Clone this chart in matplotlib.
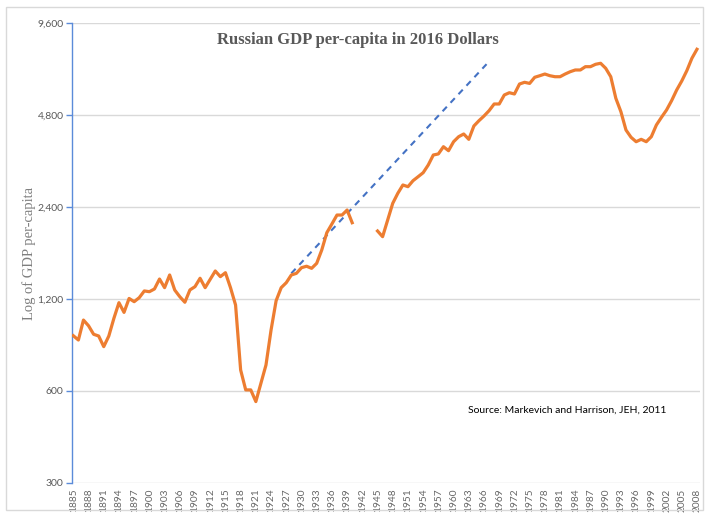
import numpy as np
import matplotlib
matplotlib.use("Agg")
import matplotlib.pyplot as plt
from matplotlib.ticker import FixedLocator, FuncFormatter, NullLocator
from matplotlib.patches import Rectangle

years = list(range(1885, 2009))
gdp = [
    910, 881, 1024, 981, 920, 908, 838, 908, 1037, 1167,          # 1885-1894
    1085, 1205, 1176, 1212, 1275, 1268, 1294, 1395, 1307, 1438,   # 1895-1904
    1284, 1221, 1171, 1285, 1317, 1403, 1307, 1392, 1482, 1420,   # 1905-1914
    1463, 1307, 1147, 703, 605, 605, 554, 636, 730, 950,          # 1915-1924
    1185, 1307, 1357, 1438, 1456, 1519, 1536, 1512, 1570, 1736,   # 1925-1934
    1978, 2112, 2259, 2259, 2346, 2132, None, None, None, None,   # 1935-1944
    2003, 1919, 2176, 2468, 2661, 2833, 2797, 2926, 3015, 3108,   # 1945-1954
    3293, 3551, 3580, 3780, 3668, 3925, 4076, 4160, 3996, 4418,   # 1955-1964
    4598, 4764, 4959, 5215, 5215, 5581, 5678, 5623, 6062, 6141,   # 1965-1974
    6090, 6377, 6453, 6536, 6453, 6405, 6405, 6536, 6651, 6738,   # 1975-1984
    6738, 6908, 6908, 7033, 7087, 6825, 6405, 5444, 4920, 4287,   # 1985-1994
    4058, 3925, 3996, 3925, 4076, 4452, 4717, 4984, 5347, 5795,   # 1995-2004
    6200, 6702, 7358, 7875,                                       # 2005-2008
]
trend_years = [1928, 1966.5]
trend_vals = [1456, 7040]

y_ticks = [300, 600, 1200, 2400, 4800, 9600]
x_tick_years = list(range(1885, 2009, 3))

title = "Russian GDP per-capita in 2016 Dollars"
ylabel = "Log of GDP per-capita"
source = "Source: Markevich and Harrison, JEH, 2011"

W, H = 706, 514
fig = plt.figure(figsize=(W / 100, H / 100), dpi=100)
ax = fig.add_axes([72 / W, 1 - 483 / H, (700 - 72) / W, (483 - 23) / H])

vals = np.array([np.nan if v is None else v for v in gdp], dtype=float)
ax.plot(years, vals, color="#ED7D31", lw=2.3, solid_joinstyle="round", zorder=3)
ax.plot(trend_years, trend_vals, color="#4472C4", lw=1.5, dashes=(3, 2.6), zorder=2)

ax.set_yscale("log", base=2)
ax.set_ylim(300, 9600)
ax.yaxis.set_major_locator(FixedLocator(y_ticks))
ax.yaxis.set_minor_locator(NullLocator())
ax.yaxis.set_major_formatter(FuncFormatter(lambda v, p: f"{int(round(v)):,}"))
ax.set_xlim(1884.74, 2008.6)
ax.set_xticks(x_tick_years)
ax.set_xticklabels([str(y) for y in x_tick_years], rotation=90)

ax.grid(axis="y", color="#D9D9D9", lw=1.0, zorder=0)
ax.set_axisbelow(True)
for s in ["top", "right", "bottom"]:
    ax.spines[s].set_visible(False)
ax.spines["left"].set_color("#5B8BD9")
ax.spines["left"].set_linewidth(1.0)

ax.tick_params(axis="y", colors="#5B8BD9", length=4, width=1, labelcolor="#595959",
               labelsize=7.5, pad=2)
ax.tick_params(axis="x", length=0, labelcolor="#666666", labelsize=7.3, pad=4)
for lab in ax.get_yticklabels() + ax.get_xticklabels():
    lab.set_fontfamily("Lato")

ax.set_ylabel(ylabel, family="Liberation Serif", fontsize=10.5, color="#7F7F7F", labelpad=1)

fig.text(358 / W, 1 - 40 / H, title, family="Liberation Serif", weight="bold",
         fontsize=12, color="#595959", ha="center", va="center")
fig.text(468 / W, 1 - 410 / H, source, family="Lato", fontsize=7.5, color="#000000",
         ha="left", va="center")

fig.add_artist(Rectangle((6 / W, 1 - 510 / H), (703 - 6) / W, (510 - 7) / H,
                         transform=fig.transFigure, fill=False, edgecolor="#D9D9D9", lw=1))

fig.savefig("out.png", dpi=100)
